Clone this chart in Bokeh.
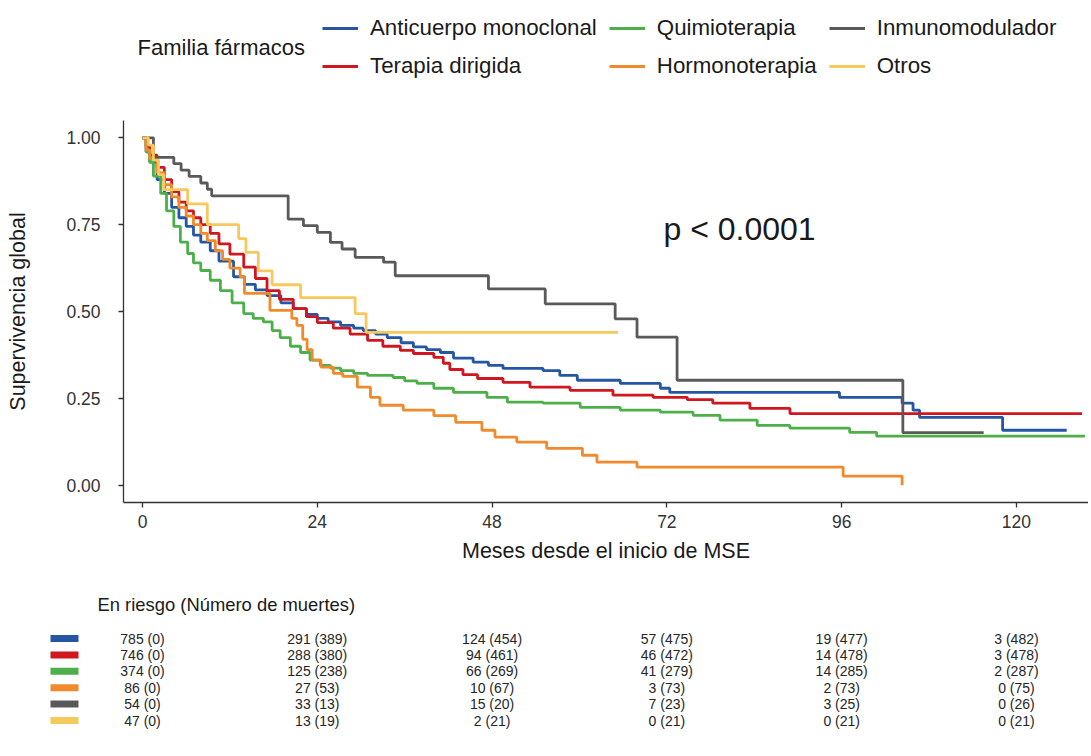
from bokeh.plotting import figure
from bokeh.models import Range1d, FixedTicker, Label, Legend, LegendItem, PrintfTickFormatter
from bokeh.layouts import column
from bokeh.embed import file_html
from bokeh.resources import INLINE
from bokeh.core.properties import value

FONT = "Liberation Sans"
W = 1088

# ---------------- data ----------------
groups = ["Anticuerpo monoclonal", "Terapia dirigida", "Quimioterapia",
          "Hormonoterapia", "Inmunomodulador", "Otros"]
colors = ["#2456A4", "#D0161E", "#4DAF4A", "#F08A2C", "#595959", "#F7C95C"]

t_anticuerpo = [0, 0.5, 1, 2, 3, 4, 5, 6, 7, 8, 9.3, 10.5, 12.5, 14, 15.5, 17.1, 19, 20.7, 22.5, 24,
                25.5, 27.2, 29, 30.3, 32, 33.6, 35.5, 37.2, 39, 40.9, 42.7, 45.4, 47.5, 49.5, 55,
                57.3, 59.7, 65.6, 71.1, 72.4, 95.7, 104.3, 105.8, 106.7, 118.1, 126.9]
s_anticuerpo = [1.0, 0.96, 0.93, 0.88, 0.84, 0.80, 0.77, 0.745, 0.72, 0.70, 0.675, 0.645, 0.60, 0.578,
                0.562, 0.546, 0.525, 0.508, 0.492, 0.48, 0.47, 0.46, 0.452, 0.445, 0.435, 0.425, 0.41,
                0.398, 0.39, 0.382, 0.366, 0.354, 0.345, 0.336, 0.33, 0.316, 0.302, 0.293, 0.279,
                0.267, 0.253, 0.236, 0.216, 0.195, 0.158, 0.158]

t_terapia = [0, 0.5, 1, 2, 3, 4, 5, 6, 7, 8, 9.3, 10.5, 12, 13.9, 15.5, 17.1, 18.8, 20.7, 22.5, 24,
             26.2, 28.5, 30.9, 33, 35.4, 37.2, 40, 41.3, 42.2, 44, 46, 49.5, 53.2, 58.7, 64.6, 70.1,
             74.8, 78.3, 83.4, 88.9, 129]
s_terapia = [1.0, 0.975, 0.95, 0.915, 0.88, 0.845, 0.815, 0.79, 0.77, 0.75, 0.725, 0.695, 0.665, 0.628,
             0.595, 0.56, 0.535, 0.508, 0.485, 0.468, 0.452, 0.435, 0.417, 0.40, 0.388, 0.379, 0.368,
             0.351, 0.333, 0.318, 0.307, 0.296, 0.282, 0.273, 0.259, 0.253, 0.246, 0.236, 0.221,
             0.206, 0.206]

t_quimio = [0, 0.5, 1, 1.5, 2.5, 3.3, 4.3, 5.2, 6.2, 7, 8, 9.3, 10.7, 12.3, 13.9, 15.2, 16.6, 17.8,
            18.9, 20.3, 21.7, 23, 24.4, 25.8, 27.2, 29, 30.9, 34.4, 36, 37.7, 40, 42.7, 47.3, 50.1,
            55, 60.1, 65.6, 71.1, 75.6, 79.3, 84.4, 88.9, 97.1, 100.8, 129.4]
s_quimio = [1.0, 0.96, 0.93, 0.89, 0.84, 0.79, 0.745, 0.70, 0.667, 0.64, 0.618, 0.59, 0.56, 0.525,
            0.494, 0.48, 0.47, 0.445, 0.425, 0.40, 0.382, 0.36, 0.345, 0.337, 0.33, 0.322, 0.316,
            0.31, 0.30, 0.293, 0.279, 0.267, 0.253, 0.239, 0.236, 0.224, 0.216, 0.21, 0.201, 0.187,
            0.172, 0.164, 0.152, 0.141, 0.141]

t_hormono = [0, 0.5, 1, 2, 3, 4, 5, 6, 7, 8, 8.9, 10, 11, 12, 13.4, 14, 17.5, 20.5, 21.2, 22,
             22.6, 23.3, 24.5, 26.2, 27.5, 29.5, 31.3, 32.6, 35.8, 40, 43, 46.6, 48.4, 51.4, 55.5,
             60.4, 62.4, 67.9, 96.2, 104.3]
s_hormono = [1.0, 0.965, 0.94, 0.90, 0.865, 0.83, 0.80, 0.775, 0.75, 0.725, 0.704, 0.675, 0.65,
             0.625, 0.60, 0.552, 0.503, 0.48, 0.46, 0.42, 0.39, 0.36, 0.34, 0.322, 0.313, 0.282,
             0.253, 0.23, 0.216, 0.20, 0.181, 0.158, 0.138, 0.124, 0.106, 0.086, 0.066, 0.052,
             0.026, 0.0]

t_inmuno = [0, 1.5, 4.3, 5.3, 6.4, 8.0, 8.9, 9.5, 20.0, 22.1, 24.0, 25.8, 27.4, 29.2, 33.1, 34.7,
            47.5, 55.3, 64.9, 67.9, 73.4, 104.4, 115.5]
s_inmuno = [1.0, 0.944, 0.926, 0.907, 0.889, 0.870, 0.852, 0.833, 0.766, 0.747, 0.728, 0.699,
            0.680, 0.656, 0.642, 0.603, 0.565, 0.522, 0.479, 0.426, 0.302, 0.151, 0.151]

t_otros = [0, 0.8, 1.5, 2.2, 2.9, 6.2, 8.9, 13.2, 14.2, 15.9, 17.8, 21.7, 29.2, 30.7, 65.3]
s_otros = [1.0, 0.979, 0.936, 0.894, 0.851, 0.81, 0.75, 0.71, 0.67, 0.617, 0.577, 0.54, 0.494,
           0.44, 0.44]

curves = [(t_anticuerpo, s_anticuerpo), (t_terapia, s_terapia), (t_quimio, s_quimio),
          (t_hormono, s_hormono), (t_inmuno, s_inmuno), (t_otros, s_otros)]

x_ticks = [0, 24, 48, 72, 96, 120]
y_ticks = [0, 0.25, 0.5, 0.75, 1.0]

risk_times = [0, 24, 48, 72, 96, 120]
risk_anticuerpo = ["785 (0)", "291 (389)", "124 (454)", "57 (475)", "19 (477)", "3 (482)"]
risk_terapia = ["746 (0)", "288 (380)", "94 (461)", "46 (472)", "14 (478)", "3 (478)"]
risk_quimio = ["374 (0)", "125 (238)", "66 (269)", "41 (279)", "14 (285)", "2 (287)"]
risk_hormono = ["86 (0)", "27 (53)", "10 (67)", "3 (73)", "2 (73)", "0 (75)"]
risk_inmuno = ["54 (0)", "33 (13)", "15 (20)", "7 (23)", "3 (25)", "0 (26)"]
risk_otros = ["47 (0)", "13 (19)", "2 (21)", "0 (21)", "0 (21)", "0 (21)"]
risk_rows = [risk_anticuerpo, risk_terapia, risk_quimio, risk_hormono, risk_inmuno, risk_otros]

pval_text = "p < 0.0001"

# ---------------- layout constants (page pixels) ----------------
FRAME_L = 123          # left edge of the plot frame
PX0 = 142              # page x of month 0
PPM = 7.283            # pixels per month
X_START = (FRAME_L - PX0) / PPM
X_END = X_START + (W - FRAME_L) / PPM

LEG_H = 113
MAIN_H = 477
RISK_H = 756 - LEG_H - MAIN_H

# ---------------- legend strip ----------------
leg = figure(width=W, height=LEG_H, x_range=Range1d(FRAME_L, W), y_range=Range1d(LEG_H, 0),
             output_backend="svg", toolbar_location=None,
             min_border_left=FRAME_L, min_border_right=0, min_border_top=0, min_border_bottom=0,
             x_axis_location=None, y_axis_location=None)
leg.xgrid.visible = False
leg.ygrid.visible = False
leg.outline_line_color = None
items = []
for g, c in zip(groups, colors):
    rr = leg.line(x=[-1000, -999], y=[-1000, -999], line_color=c, line_width=3)
    items.append(LegendItem(label=g, renderers=[rr]))
legend = Legend(items=items, ncols=3, location=(322 - FRAME_L, LEG_H - 79),
                label_text_font=FONT, label_text_font_size="22.3px", label_text_color="#1a1a1a",
                glyph_width=36, glyph_height=26, label_height=26, label_standoff=12,
                spacing=12, padding=0, margin=0, border_line_color=None,
                background_fill_alpha=0)
leg.add_layout(legend, "center")
leg.text(x=[137], y=[47], text=["Familia fármacos"], text_font=value(FONT),
         text_font_size="22px", text_baseline="middle", text_align="left",
         text_color="#1a1a1a")

# ---------------- main plot ----------------
p = figure(width=W, height=MAIN_H, x_range=Range1d(X_START, X_END), y_range=Range1d(-0.05, 1.05),
           output_backend="svg", toolbar_location=None,
           min_border_left=FRAME_L, min_border_right=0, min_border_top=7, min_border_bottom=88)
for (t, s), c in zip(curves, colors):
    p.step(x=t, y=s, mode="after", line_color=c, line_width=2.8)

p.xgrid.visible = False
p.ygrid.visible = False
p.outline_line_color = None
p.xaxis.ticker = FixedTicker(ticks=x_ticks)
p.yaxis.ticker = FixedTicker(ticks=y_ticks)
p.yaxis.formatter = PrintfTickFormatter(format="%.2f")
for ax in (p.xaxis, p.yaxis):
    ax.axis_line_color = "#333333"
    ax.axis_line_width = 1.3
    ax.major_tick_line_color = "#333333"
    ax.major_tick_line_width = 1.3
    ax.major_tick_in = 0
    ax.major_tick_out = 5
    ax.minor_tick_line_color = None
    ax.major_label_text_font = FONT
    ax.major_label_text_font_size = "17.5px"
    ax.major_label_text_color = "#333333"
    ax.axis_label_text_font = FONT
    ax.axis_label_text_font_size = "21.5px"
    ax.axis_label_text_font_style = "normal"
    ax.axis_label_text_color = "#1a1a1a"
p.xaxis.axis_label = "Meses desde el inicio de MSE"
p.yaxis.axis_label = "Supervivencia global"
p.xaxis.major_label_standoff = 7
p.xaxis.axis_label_standoff = 8
p.yaxis.major_label_standoff = 18
p.yaxis.axis_label_standoff = 33

p.add_layout(Label(x=(663 - PX0) / PPM, y=0.7365, text=pval_text, text_font=FONT,
                   text_font_size="32px", text_baseline="middle", text_align="left",
                   text_color="#1a1a1a"))

# ---------------- risk table (own, unaligned frame spanning full width) ----------------
ROW_PX = 16.4
ROW0_Y = 638 - (LEG_H + MAIN_H)   # first row, px from top of this figure
y_top = -ROW0_Y / ROW_PX
y_bot = (RISK_H - ROW0_Y) / ROW_PX
R_START = (0 - PX0) / PPM
rt = figure(width=W, height=RISK_H, x_range=Range1d(R_START, X_END), y_range=Range1d(y_bot, y_top),
            output_backend="svg", toolbar_location=None,
            min_border_left=0, min_border_right=0, min_border_top=0, min_border_bottom=0,
            x_axis_location=None, y_axis_location=None)
rt.frame_align = False
rt.xgrid.visible = False
rt.ygrid.visible = False
rt.outline_line_color = None
row_idx = list(range(len(groups)))
KEY_X = (64 - PX0) / PPM
rt.rect(x=[KEY_X] * len(groups), y=row_idx, width=28, height=7, width_units="screen",
        height_units="screen", fill_color=colors, line_color=None)
for i, row in enumerate(risk_rows):
    rt.text(x=risk_times, y=[i] * len(risk_times), text=row, text_font=value(FONT),
            text_font_size="14px", text_align="center", text_baseline="middle",
            text_color="#262626")
rt.text(x=[(97 - PX0) / PPM], y=[(604 - 638) / ROW_PX], text=["En riesgo (Número de muertes)"],
        text_font=value(FONT), text_font_size="18.4px", text_align="left",
        text_baseline="middle", text_color="#1a1a1a")

layout = column(leg, p, rt, spacing=0)
open("out.html", "w").write(file_html(layout, INLINE))
